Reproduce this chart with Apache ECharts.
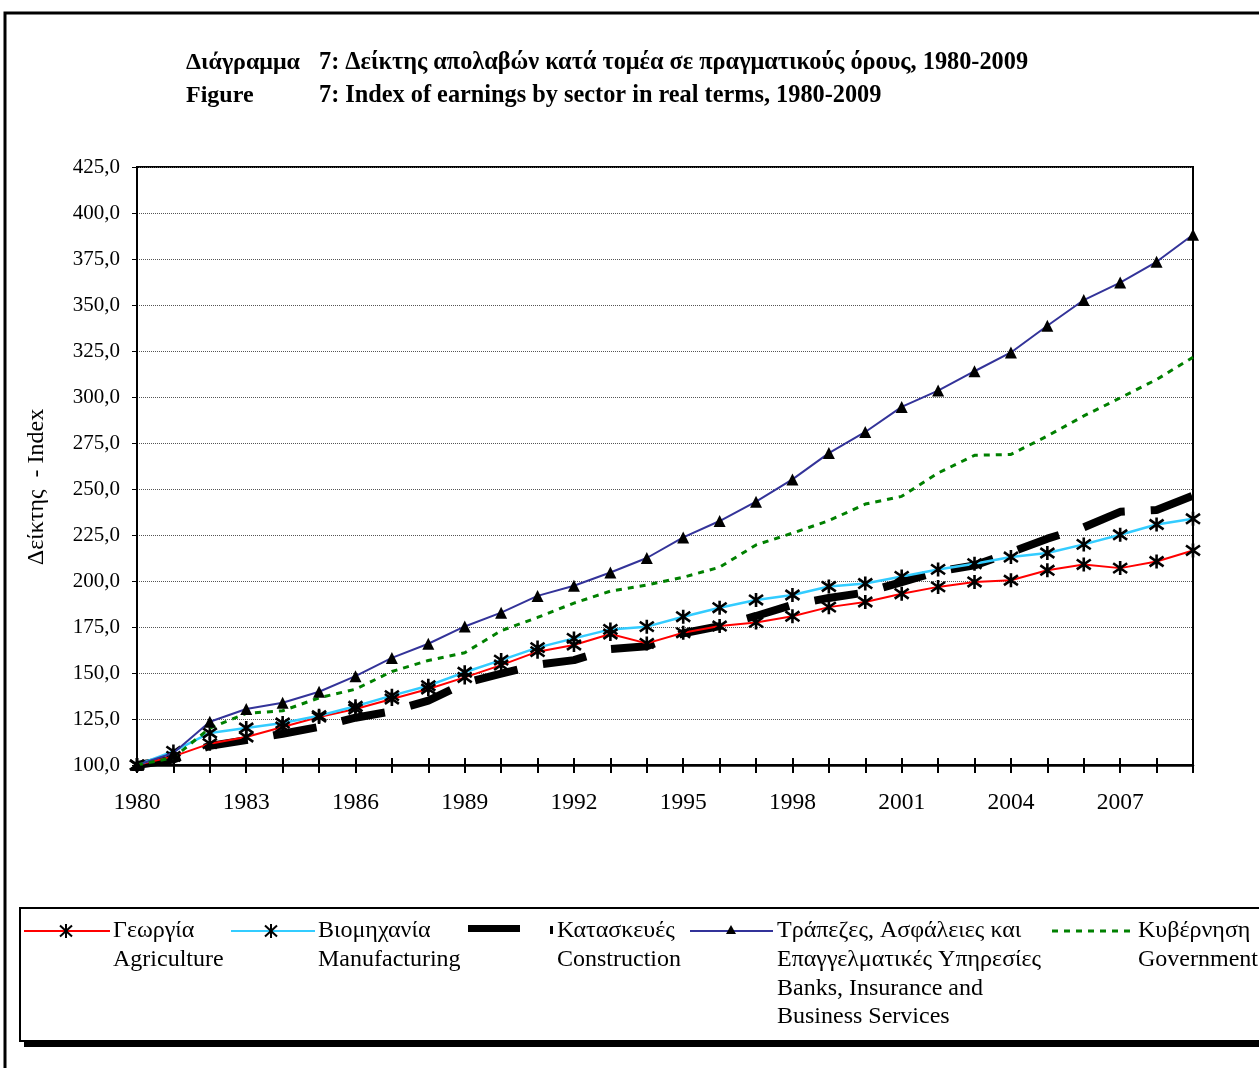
<!DOCTYPE html>
<html><head><meta charset="utf-8">
<script src="https://cdn.jsdelivr.net/npm/echarts@6/dist/echarts.min.js"></script>
<style>html,body{margin:0;padding:0;background:#fff}#c{width:1259px;height:1068px}</style>
</head><body><div id="c"></div><script>
const years = ['1980','1981','1982','1983','1984','1985','1986','1987','1988','1989','1990','1991','1992','1993','1994','1995','1996','1997','1998','1999','2000','2001','2002','2003','2004','2005','2006','2007','2008','2009'];
const agriculture = [100, 104.7, 111.6, 115.2, 120.7, 126.1, 130.4, 135.9, 141.3, 147.6, 154.3, 161.6, 165.2, 171.2, 166.1, 171.9, 175.5, 177.5, 180.8, 185.8, 188.6, 193.1, 196.8, 199.5, 200.4, 205.8, 209.0, 207.0, 210.6, 216.6];
const manufacturing = [100, 107.4, 117.4, 120.1, 122.8, 126.8, 131.9, 137.7, 143.1, 150.4, 157.0, 163.8, 168.8, 173.7, 175.2, 180.6, 185.5, 189.7, 192.4, 197.0, 198.6, 202.5, 206.3, 209.4, 213.0, 215.2, 219.9, 225.1, 230.7, 233.8];
const construction = [100, 103, 110.4, 113.5, 117, 120.7, 125.7, 129.2, 135, 144.5, 149.6, 154.5, 157, 163, 164.5, 171.6, 175.5, 181, 187, 190.8, 193.7, 199.4, 205.2, 208.5, 215.6, 223, 229.2, 237.6, 238.6, 246.4];
const banks = [100, 106.5, 123.5, 130.4, 133.8, 139.8, 148.3, 158.2, 165.9, 175.3, 182.8, 191.9, 197.4, 204.6, 212.5, 223.7, 232.6, 243.1, 255.2, 269.5, 281, 294.6, 303.5, 314, 324.2, 338.7, 352.7, 362.2, 373.5, 388.2];
const government = [100, 104, 120, 128, 129.5, 136.5, 141.2, 150.8, 156.8, 161, 173, 180.2, 188, 194.5, 197.8, 202, 207.5, 219.6, 226, 232.8, 241.8, 246, 258.7, 268.3, 268.8, 278.8, 289.7, 299.5, 309.5, 321.6];
const yTicks = {min: 100, max: 425, step: 25};
const titleLines = [['Διάγραμμα', '7: Δείκτης απολαβών κατά τομέα σε πραγματικούς όρους, 1980-2009'], ['Figure', '7: Index of earnings by sector in real terms, 1980-2009']];
const legendTexts = [['Γεωργία','Agriculture'], ['Βιομηχανία','Manufacturing'], ['Κατασκευές','Construction'], ['Τράπεζες, Ασφάλειες και','Επαγγελματικές Υπηρεσίες','Banks, Insurance and','Business Services'], ['Κυβέρνηση','Government']];
const yName = 'Δείκτης  - Index';

const F = '"Liberation Serif", "Times New Roman", serif';
const STAR = 'path://M5,0L5,10M1,1.5L9,8.5M1,8.5L9,1.5';
const chart = echarts.init(document.getElementById('c'));

function starLines(cx, cy) {
  const segs = [[[cx, cy-7],[cx, cy+7]], [[cx-6, cy-5.5],[cx+6, cy+5.5]], [[cx-6, cy+5.5],[cx+6, cy-5.5]]];
  return segs.map(s => ({type:'polyline', shape:{points:s}, style:{stroke:'#000', lineWidth:2, fill:null}, z:10}));
}
const starStyle = {color: 'rgba(0,0,0,0)', borderColor: '#000', borderWidth: 2.6};

const graphics = [];
graphics.push({type:'rect', shape:{x:5, y:13, width:1300, height:1100}, style:{fill:null, stroke:'#000', lineWidth:3}, z:0, silent:true});
titleLines.forEach((ln, i) => {
  const y = 63 + i * 33;
  graphics.push({type:'text', x:186, y:y, style:{text:ln[0], fill:'#000', fontFamily:F, fontWeight:'bold', fontSize:24, verticalAlign:'middle'}});
  graphics.push({type:'text', x:319, y:y, style:{text:ln[1], fill:'#000', fontFamily:F, fontWeight:'bold', fontSize:24.3, verticalAlign:'middle'}});
});
graphics.push({type:'text', x:37, y:487, rotation:Math.PI/2, style:{text:yName, fill:'#000', fontFamily:F, fontSize:24, align:'center', verticalAlign:'middle'}});
// legend box
graphics.push({type:'rect', shape:{x:24, y:1040, width:1300, height:7}, style:{fill:'#000'}});
graphics.push({type:'rect', shape:{x:20, y:908, width:1300, height:133}, style:{fill:'#fff', stroke:'#000', lineWidth:2}});
const ly = 931;
graphics.push({type:'line', shape:{x1:24, y1:ly, x2:110, y2:ly}, style:{stroke:'#ff0000', lineWidth:2}});
graphics.push(...starLines(66, ly));
graphics.push({type:'line', shape:{x1:231, y1:ly, x2:315, y2:ly}, style:{stroke:'#33ccff', lineWidth:2}});
graphics.push(...starLines(271, ly));
graphics.push({type:'rect', shape:{x:468, y:925, width:52, height:7}, style:{fill:'#000'}});
graphics.push({type:'rect', shape:{x:550, y:926, width:3, height:8}, style:{fill:'#000'}});
graphics.push({type:'line', shape:{x1:690, y1:ly, x2:773, y2:ly}, style:{stroke:'#333399', lineWidth:2}});
graphics.push({type:'polygon', shape:{points:[[731, ly-6],[736, ly+3],[726, ly+3]]}, style:{fill:'#000'}});
graphics.push({type:'line', shape:{x1:1052, y1:ly, x2:1134, y2:ly}, style:{stroke:'#008000', lineWidth:3, lineDash:[6,6]}});
const lx = [113, 318, 557, 777, 1138];
legendTexts.forEach((arr, i) => {
  arr.forEach((t, j) => {
    graphics.push({type:'text', x:lx[i], y:ly + j*28.7, style:{text:t, fill:'#000', fontFamily:F, fontSize:24, verticalAlign:'middle'}});
  });
});

function ser(name, data, opts) {
  return Object.assign({name, type:'line', data, showAllSymbol:true, animation:false, emphasis:{disabled:true}, silent:true}, opts);
}

chart.setOption({
  animation: false,
  backgroundColor: '#fff',
  grid: {left:137, top:167, width:1056, height:598, show:true, borderColor:'#000', borderWidth:2, backgroundColor:'rgba(0,0,0,0)'},
  xAxis: [
    {type:'category', data:years, boundaryGap:false,
     axisLine:{lineStyle:{color:'#000', width:2.5}},
     axisTick:{interval:0, length:8, lineStyle:{color:'#000', width:2}},
     axisLabel:{interval:2, color:'#000', fontFamily:F, fontSize:23.5, margin:26},
     splitLine:{show:false}},
    {type:'category', data:years, boundaryGap:false, position:'bottom',
     axisLine:{show:false},
     axisTick:{inside:true, interval:0, length:7, lineStyle:{color:'#000', width:2}},
     axisLabel:{show:false}, splitLine:{show:false}}
  ],
  yAxis: {type:'value', min:yTicks.min, max:yTicks.max, interval:yTicks.step,
    axisLine:{show:true, lineStyle:{color:'#000', width:2}},
    axisTick:{show:true, length:5, lineStyle:{color:'#000', width:1}},
    axisLabel:{color:'#000', fontFamily:F, fontSize:21, margin:17, formatter:v => v.toFixed(1).replace('.', ',')},
    splitLine:{show:true, lineStyle:{type:'dotted', color:'#555', width:1}}},
  series: [
    ser('Construction', construction, {lineStyle:{color:'#000', width:8, type:[44,26], cap:'butt'}, symbol:'none', z:1}),
    ser('Agriculture', agriculture, {lineStyle:{color:'#ff0000', width:2}, symbol:STAR, symbolSize:14, itemStyle:starStyle, z:2}),
    ser('Manufacturing', manufacturing, {lineStyle:{color:'#33ccff', width:2.5}, symbol:STAR, symbolSize:14, itemStyle:starStyle, z:2}),
    ser('Banks', banks, {lineStyle:{color:'#333399', width:2}, symbol:'triangle', symbolSize:12, itemStyle:{color:'#000'}, z:4}),
    ser('Government', government, {lineStyle:{color:'#008000', width:3, type:[6,6]}, symbol:'none', z:4})
  ],
  graphic: graphics
});
</script></body></html>
